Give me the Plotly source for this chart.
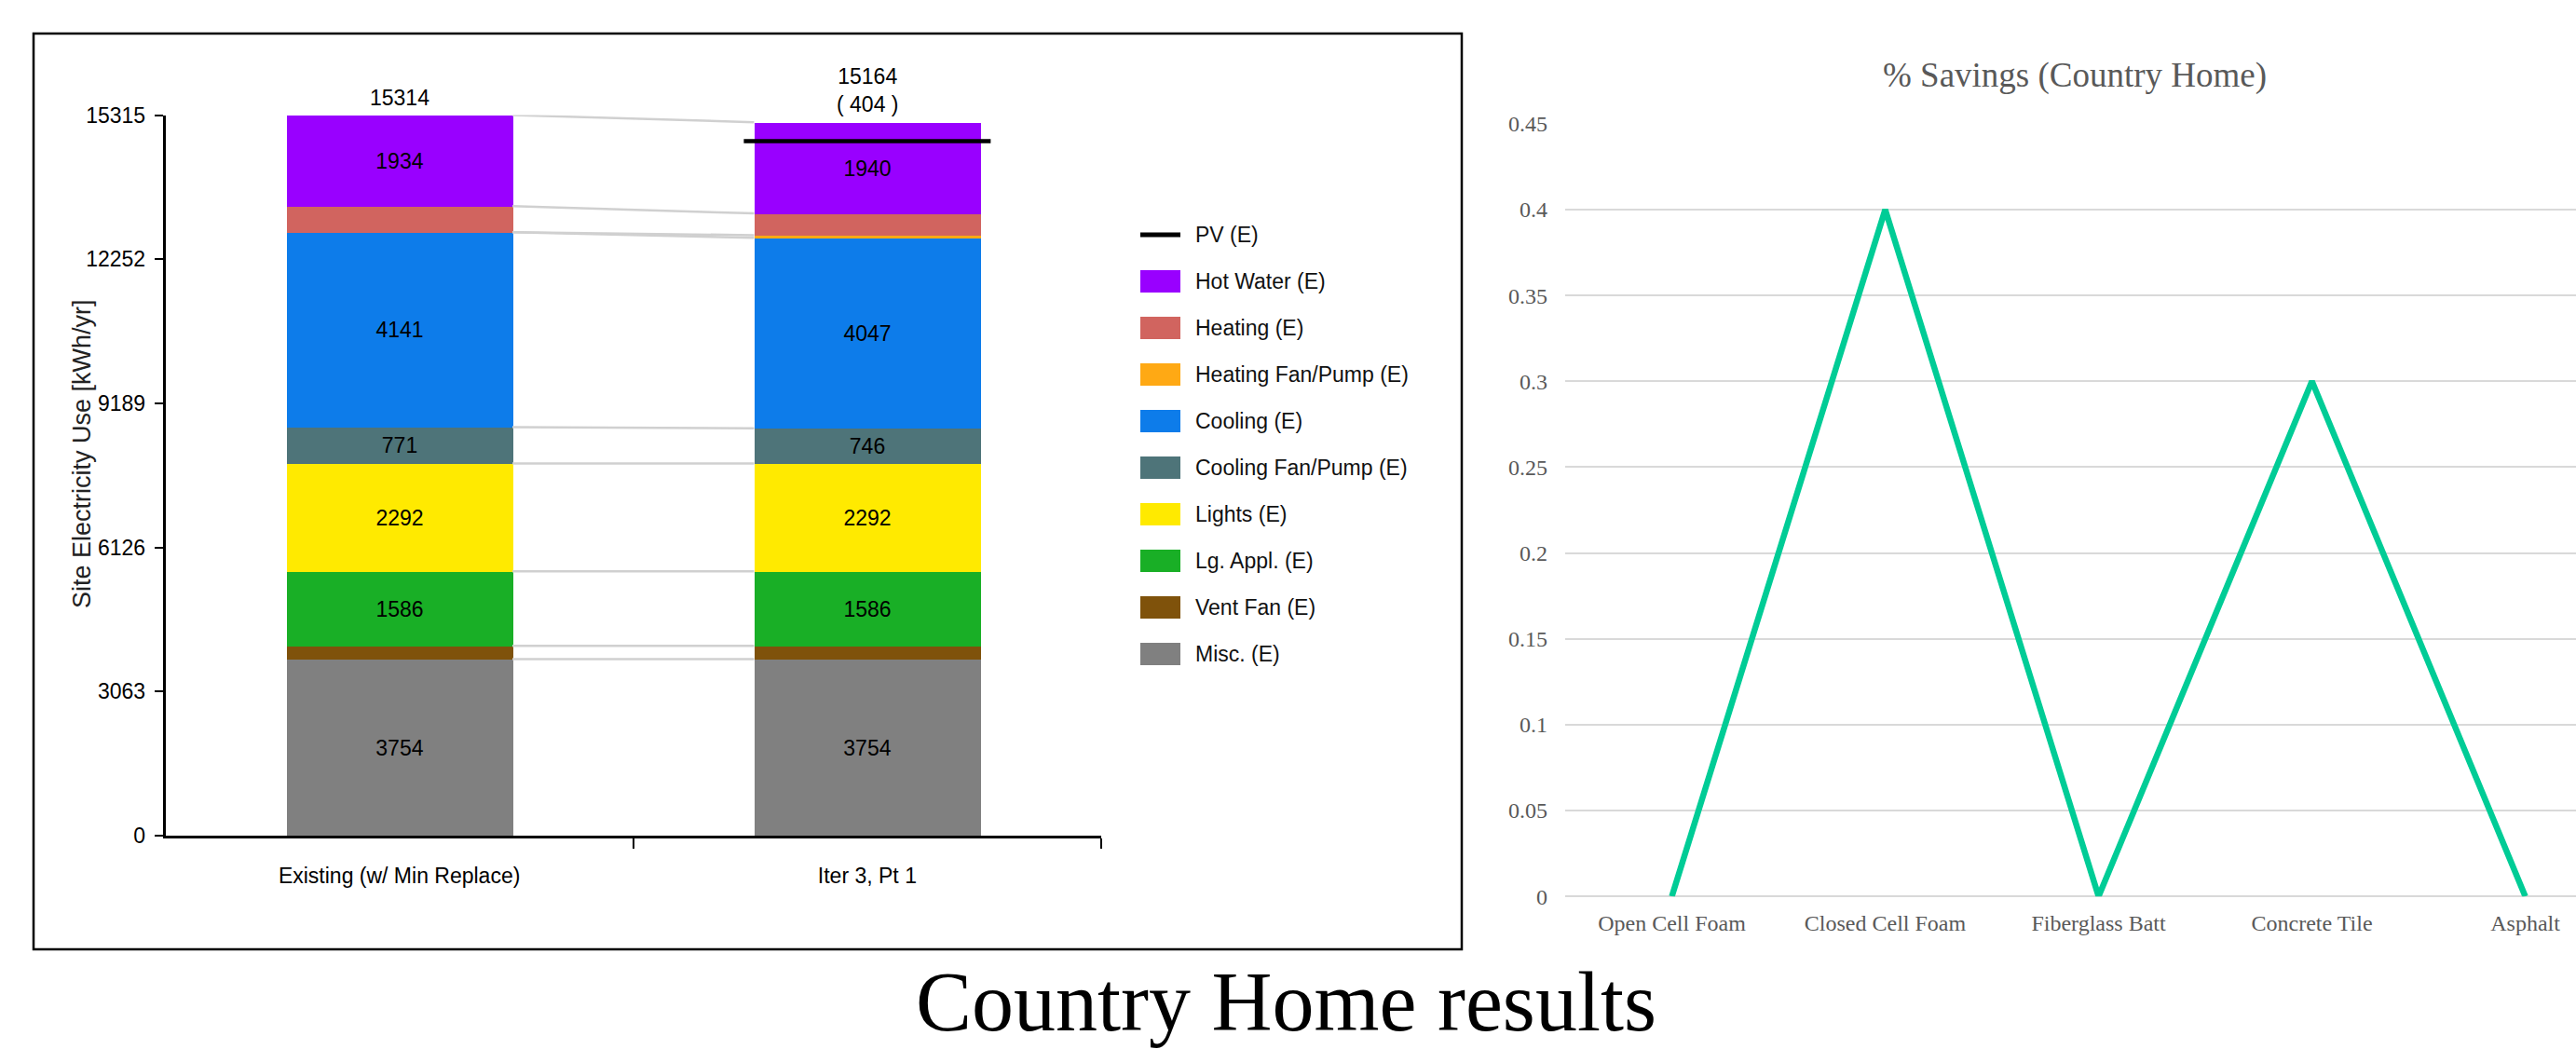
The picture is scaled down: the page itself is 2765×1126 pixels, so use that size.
import plotly.graph_objects as go

W, H = 2765, 1126

# ---------------- data ----------------
categories = ["Existing (w/ Min Replace)", "Iter 3, Pt 1"]
series_names = ["Misc. (E)", "Vent Fan (E)", "Lg. Appl. (E)", "Lights (E)",
                "Cooling Fan/Pump (E)", "Cooling (E)", "Heating Fan/Pump (E)",
                "Heating (E)", "Hot Water (E)"]
misc = [3754, 3754]
vent_fan = [280, 280]
lg_appl = [1586, 1586]
lights = [2292, 2292]
cooling_fan = [771, 746]
cooling = [4141, 4047]
heating_fan = [0, 57]
heating = [556, 462]
hot_water = [1934, 1940]
pv = [0, 404]
y_ticks = [0, 3063, 6126, 9189, 12252, 15315]

savings_cats = ["Open Cell Foam", "Closed Cell Foam", "Fiberglass Batt",
                "Concrete Tile", "Asphalt"]
savings = [0, 0.4, 0, 0.3, 0]
savings_ticks = [0, 0.05, 0.1, 0.15, 0.2, 0.25, 0.3, 0.35, 0.4, 0.45]

# ---------------- style ----------------
series_values = [misc, vent_fan, lg_appl, lights, cooling_fan, cooling,
                 heating_fan, heating, hot_water]
series_colors = ["#808080", "#7F520B", "#19AF26", "#FFEA00", "#4E7479",
                 "#0D7CEA", "#FFA914", "#D1645F", "#9900FF"]
SANS = "Liberation Sans, Arial, sans-serif"
SERIF = "Liberation Serif, Times New Roman, serif"
FS = 23
BAR_W = 0.4836


def px(x):
    return x / W


def py(y):
    return 1 - y / H


fig = go.Figure()

# stacked bars
for name, vals, col in zip(series_names, series_values, series_colors):
    fig.add_trace(go.Bar(
        x=[0, 1], y=vals, name=name, width=BAR_W,
        marker=dict(color=col, line=dict(width=0)),
        text=[str(v) if v >= 700 else "" for v in vals],
        textposition="inside", insidetextanchor="middle",
        constraintext="none", textangle=0,
        textfont=dict(family=SANS, size=FS, color="black"),
        showlegend=False, hoverinfo="skip",
        xaxis="x", yaxis="y",
    ))

# connector lines between bars at each stack boundary
cx, cy = [], []
cum = [0, 0]
for vals in series_values:
    cum = [cum[0] + vals[0], cum[1] + vals[1]]
    cx += [0 + BAR_W / 2, 1 - BAR_W / 2, None]
    cy += [cum[0], cum[1], None]
fig.add_trace(go.Scatter(x=cx, y=cy, mode="lines",
                         line=dict(color="#D0D0D0", width=2.5),
                         showlegend=False, hoverinfo="skip",
                         xaxis="x", yaxis="y"))

totals = [sum(v[i] for v in series_values) for i in range(2)]

# PV line on the second bar
pad = 0.022
fig.add_trace(go.Scatter(x=[1 - BAR_W / 2 - pad, 1 + BAR_W / 2 + pad],
                         y=[totals[1] - pv[1]] * 2, mode="lines",
                         line=dict(color="black", width=4.5),
                         showlegend=False, hoverinfo="skip",
                         xaxis="x", yaxis="y"))

annotations = []
for i in range(2):
    txt = str(totals[i]) if pv[i] == 0 else f"{totals[i]}<br>( {pv[i]} )"
    annotations.append(dict(x=i, y=totals[i], xref="x", yref="y",
                            text=txt, showarrow=False, yanchor="bottom",
                            yshift=4,
                            font=dict(family=SANS, size=FS, color="black")))

# savings line
fig.add_trace(go.Scatter(x=savings_cats, y=savings, mode="lines",
                         line=dict(color="#00CC96", width=6.5),
                         showlegend=False, hoverinfo="skip",
                         xaxis="x2", yaxis="y2"))

# ---------------- custom legend ----------------
shapes = []
legend_items = [("PV (E)", "black", "line")] + [
    (n, c, "box") for n, c in zip(series_names[::-1], series_colors[::-1])]
for k, (name, col, kind) in enumerate(legend_items):
    yc = 252 + 50 * k
    if kind == "line":
        shapes.append(dict(type="line", xref="paper", yref="paper",
                           x0=px(1224), x1=px(1267), y0=py(yc), y1=py(yc),
                           line=dict(color="black", width=5)))
    else:
        shapes.append(dict(type="rect", xref="paper", yref="paper",
                           x0=px(1224), x1=px(1267), y0=py(yc + 12), y1=py(yc - 12),
                           fillcolor=col, line=dict(width=0)))
    annotations.append(dict(x=px(1281), y=py(yc), xref="paper", yref="paper",
                            text=name, showarrow=False, xanchor="left",
                            yanchor="middle",
                            font=dict(family=SANS, size=FS, color="#111111")))

# frame around the left chart
shapes.append(dict(type="rect", xref="paper", yref="paper",
                   x0=px(36), x1=px(1569), y0=py(1019), y1=py(36),
                   line=dict(color="black", width=2.5), fillcolor="rgba(0,0,0,0)"))

# y-axis title (left)
annotations.append(dict(x=px(88), y=py(487), xref="paper", yref="paper",
                        text="Site Electricity Use [kWh/yr]", textangle=-90,
                        showarrow=False, xanchor="center", yanchor="middle",
                        font=dict(family=SANS, size=27, color="#222222")))

# right chart title
annotations.append(dict(x=px(2227), y=py(81), xref="paper", yref="paper",
                        text="% Savings (Country Home)", showarrow=False,
                        xanchor="center", yanchor="middle",
                        font=dict(family=SERIF, size=37, color="#595959")))

# caption (kept fully inside the picture)
annotations.append(dict(x=px(1380), y=0, xref="paper", yref="paper",
                        text="Country Home results", showarrow=False,
                        xanchor="center", yanchor="bottom", borderpad=0,
                        font=dict(family=SERIF, size=90, color="black")))

fig.update_layout(
    width=W, height=H,
    margin=dict(l=0, r=0, t=0, b=0, pad=0, autoexpand=False),
    paper_bgcolor="white", plot_bgcolor="white",
    barmode="stack", bargap=0,
    showlegend=False,
    shapes=shapes, annotations=annotations,
    xaxis=dict(domain=[px(177.5), px(1182)], range=[-0.5, 1.5],
               tickvals=[0, 1], ticktext=categories, ticks="",
               showline=True, linecolor="black", linewidth=2.5,
               showgrid=False, zeroline=False, automargin=False,
               tickfont=dict(family=SANS, size=FS, color="black"),
               ticklabelstandoff=21,
               minor=dict(tickvals=[0.5, 1.5], ticks="outside", ticklen=11,
                          tickwidth=2, tickcolor="black", showgrid=False),
               anchor="y", fixedrange=True),
    yaxis=dict(domain=[py(897), py(123.5)], range=[0, 15315],
               tickvals=y_ticks, ticktext=[str(v) for v in y_ticks],
               ticks="outside", ticklen=9, tickwidth=2,
               tickcolor="black", showline=True, linecolor="black",
               linewidth=2.5, showgrid=False, zeroline=False, automargin=False,
               tickfont=dict(family=SANS, size=FS, color="black"),
               ticklabelstandoff=5, anchor="x", fixedrange=True),
    xaxis2=dict(domain=[px(1680), 1.0], range=[-0.5, 4.2376],
                type="category", ticks="", showline=False, showgrid=False,
                zeroline=False, automargin=False,
                tickfont=dict(family=SERIF, size=24, color="#595959"),
                ticklabelstandoff=12, anchor="y2", fixedrange=True),
    yaxis2=dict(domain=[py(962.2), py(132.9)], range=[0, 0.45],
                tickvals=savings_ticks, ticks="", showline=False,
                showgrid=True, gridcolor="#D9D9D9", gridwidth=2,
                zeroline=True, zerolinecolor="#D9D9D9", zerolinewidth=2,
                automargin=False,
                tickfont=dict(family=SERIF, size=24, color="#595959"),
                ticklabelstandoff=18, anchor="x2", fixedrange=True),
)

fig.write_html("out.html")
